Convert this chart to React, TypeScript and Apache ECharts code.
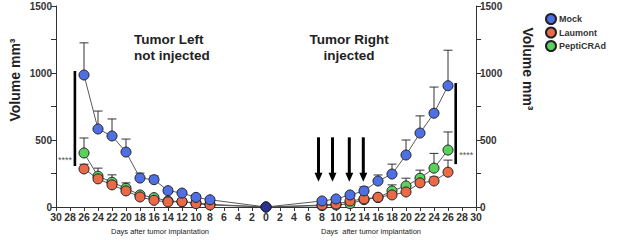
import React, { useEffect, useRef } from "react";
import * as echarts from "echarts";

// Days: negative = left tumour (axis mirrored), positive = right tumour
const days = [-26, -24, -22, -20, -18, -16, -14, -12, -10, -8, 0, 8, 10, 12, 14, 16, 18, 20, 22, 24, 26];
const xTickValues = [30, 28, 26, 24, 22, 20, 18, 16, 14, 12, 10, 8, 6, 4, 2, 0];

const mockValues = [985, 582, 530, 410, 216, 204, 122, 104, 72, 54, 0, 45, 60, 90, 120, 194, 246, 388, 552, 700, 905];
const mockErrors = [240, 134, 127, 97, 37, 28, 18, 15, 12, 10, 0, 8, 10, 15, 30, 45, 74, 112, 128, 195, 265];

const laumontValues = [284, 210, 165, 120, 75, 50, 38, 40, 25, 15, 0, 15, 22, 45, 60, 73, 90, 112, 180, 194, 260];
const laumontErrors = [35, 25, 20, 15, 10, 8, 6, 6, 5, 4, 0, 4, 5, 8, 10, 12, 20, 25, 30, 30, 90];

const pepticradValues = [403, 230, 185, 140, 90, 70, 45, 40, 30, 20, 0, 10, 15, 25, 55, 70, 120, 157, 215, 290, 425];
const pepticradErrors = [112, 60, 55, 40, 15, 10, 8, 6, 5, 4, 0, 4, 5, 8, 10, 12, 45, 58, 60, 110, 135];

// Annotations (data coordinates)
const arrowDays = [7.5, 9.5, 11.9, 13.9];
const arrowRange = [520, 188];
const sigBarDays = [-27.3, 27.1];
const sigBarTops = [1015, 925];
const sigBarBottoms = [306, 320];
const starDays = [-28.7, 28.6];
const starValues = [350, 388];

const seriesNames = ["Mock", "Laumont", "PeptiCRAd"];
const seriesColors = ["#4f70e2", "#ea6a45", "#5bd05b"];

export default function App() {
  const ref = useRef<HTMLDivElement>(null);

  useEffect(() => {
    if (!ref.current) return;
    const chart = echarts.init(ref.current, undefined, { renderer: "svg" });

    const groups = [
      { name: seriesNames[2], values: pepticradValues, errors: pepticradErrors, color: seriesColors[2] },
      { name: seriesNames[1], values: laumontValues, errors: laumontErrors, color: seriesColors[1] },
      { name: seriesNames[0], values: mockValues, errors: mockErrors, color: seriesColors[0] },
    ];

    const errorData: number[][] = [];
    groups.forEach((g) => {
      days.forEach((d, i) => {
        if (g.errors[i] > 0) errorData.push([d, g.values[i], g.errors[i]]);
      });
    });

    const lineSeries = groups.map((g) => ({
      name: g.name,
      type: "line",
      symbol: "circle",
      symbolSize: 10,
      z: 3,
      itemStyle: { color: g.color, borderColor: "#1f1f2a", borderWidth: 1 },
      lineStyle: { color: "#5a5a5a", width: 1 },
      data: days.map((d, i) =>
        d === 0 && g.name === "Mock"
          ? { value: [d, g.values[i]], itemStyle: { color: "#2a3290" } }
          : [d, g.values[i]]
      ),
    }));

    const errorSeries = {
      type: "custom",
      z: 1,
      silent: true,
      data: errorData,
      renderItem: (_params: any, api: any) => {
        const x = api.value(0);
        const y = api.value(1);
        const e = api.value(2);
        const p0 = api.coord([x, y]);
        const p1 = api.coord([x, y + e]);
        const cap = 4.5;
        return {
          type: "group",
          children: [
            { type: "line", shape: { x1: p0[0], y1: p0[1], x2: p1[0], y2: p1[1] }, style: { stroke: "#333", lineWidth: 1 } },
            { type: "line", shape: { x1: p1[0] - cap, y1: p1[1], x2: p1[0] + cap, y2: p1[1] }, style: { stroke: "#333", lineWidth: 1 } },
          ],
        };
      },
    };

    const arrowSeries = {
      type: "custom",
      z: 4,
      silent: true,
      data: arrowDays.map((d) => [d, arrowRange[0], arrowRange[1]]),
      renderItem: (_params: any, api: any) => {
        const top = api.coord([api.value(0), api.value(1)]);
        const tip = api.coord([api.value(0), api.value(2)]);
        const headH = 9;
        const headW = 4;
        return {
          type: "group",
          children: [
            { type: "line", shape: { x1: top[0], y1: top[1], x2: tip[0], y2: tip[1] - headH + 1 }, style: { stroke: "#000", lineWidth: 3 } },
            {
              type: "polygon",
              shape: { points: [[tip[0] - headW, tip[1] - headH], [tip[0] + headW, tip[1] - headH], [tip[0], tip[1]]] },
              style: { fill: "#000" },
            },
          ],
        };
      },
    };

    const sigSeries = {
      type: "custom",
      z: 4,
      silent: true,
      data: sigBarDays.map((d, i) => [d, sigBarTops[i], sigBarBottoms[i], starDays[i], starValues[i]]),
      renderItem: (_params: any, api: any) => {
        const a = api.coord([api.value(0), api.value(1)]);
        const b = api.coord([api.value(0), api.value(2)]);
        const s = api.coord([api.value(3), api.value(4)]);
        return {
          type: "group",
          children: [
            { type: "line", shape: { x1: a[0], y1: a[1], x2: b[0], y2: b[1] }, style: { stroke: "#000", lineWidth: 2.6 } },
            {
              type: "text",
              x: s[0],
              y: s[1],
              style: { text: "****", fill: "#555", fontSize: 9, fontFamily: "Liberation Sans", align: "center", verticalAlign: "middle" },
            },
          ],
        };
      },
    };

    const font = "Liberation Sans";

    const yAxisCommon = {
      type: "value",
      min: 0,
      max: 1500,
      interval: 500,
      axisLine: { show: true, onZero: false, lineStyle: { color: "#333", width: 1 } },
      axisTick: { show: true, length: 5, lineStyle: { color: "#333" } },
      minorTick: { show: true, splitNumber: 2, length: 5, lineStyle: { color: "#333" } },
      splitLine: { show: false },
      minorSplitLine: { show: false },
      axisLabel: { color: "#333", fontSize: 10, fontWeight: "bold", fontFamily: font, margin: 4, formatter: (v: number) => String(v) },
    };

    chart.setOption({
      animation: false,
      grid: { left: 56, right: 141, top: 6, bottom: 39 },
      legend: {
        data: seriesNames,
        orient: "vertical",
        left: 545,
        top: 13,
        icon: "circle",
        itemWidth: 10,
        itemHeight: 10,
        itemGap: 1.5,
        padding: 0,
        textStyle: { fontSize: 9, fontWeight: "bold", color: "#333", fontFamily: font, padding: [0, 0, 0, -2] },
      },
      xAxis: {
        type: "value",
        min: -30,
        max: 30,
        interval: 2,
        axisLine: { onZero: false, lineStyle: { color: "#333", width: 1 } },
        axisTick: { length: 4, lineStyle: { color: "#333" } },
        splitLine: { show: false },
        axisLabel: {
          color: "#333",
          fontSize: 10.5,
          fontWeight: "bold",
          fontFamily: font,
          margin: 4,
          formatter: (v: number) => {
            const a = Math.abs(v);
            return xTickValues.includes(a) ? String(a) : "";
          },
        },
      },
      yAxis: [
        { ...yAxisCommon, position: "left" },
        { ...yAxisCommon, position: "right" },
      ],
      graphic: [
        {
          type: "text",
          x: 134,
          y: 31,
          style: { text: "Tumor Left\nnot injected", fontSize: 13.5, fontWeight: "bold", fontFamily: font, fill: "#222", lineHeight: 16, align: "left" },
        },
        {
          type: "text",
          x: 349,
          y: 31,
          style: { text: "Tumor Right\ninjected", fontSize: 13.5, fontWeight: "bold", fontFamily: font, fill: "#222", lineHeight: 16, align: "center" },
        },
        {
          type: "text",
          x: 15,
          y: 80,
          rotation: Math.PI / 2,
          style: { text: "Volume mm³", fontSize: 14, fontWeight: "bold", fontFamily: font, fill: "#222", align: "center", verticalAlign: "middle" },
        },
        {
          type: "text",
          x: 528,
          y: 69,
          rotation: -Math.PI / 2,
          style: { text: "Volume mm³", fontSize: 14, fontWeight: "bold", fontFamily: font, fill: "#222", align: "center", verticalAlign: "middle" },
        },
        {
          type: "text",
          x: 160,
          y: 231,
          style: { text: "Days after tumor implantation", fontSize: 7.5, fontFamily: font, fill: "#222", align: "center", verticalAlign: "middle" },
        },
        {
          type: "text",
          x: 371,
          y: 231,
          style: { text: "Days  after tumor implantation", fontSize: 7.5, fontFamily: font, fill: "#222", align: "center", verticalAlign: "middle" },
        },
      ],
      series: [errorSeries, ...lineSeries, arrowSeries, sigSeries],
    });

    return () => chart.dispose();
  }, []);

  return <div ref={ref} style={{ position: "fixed", left: 0, top: 0, width: 617, height: 246, background: "#fff" }} />;
}
